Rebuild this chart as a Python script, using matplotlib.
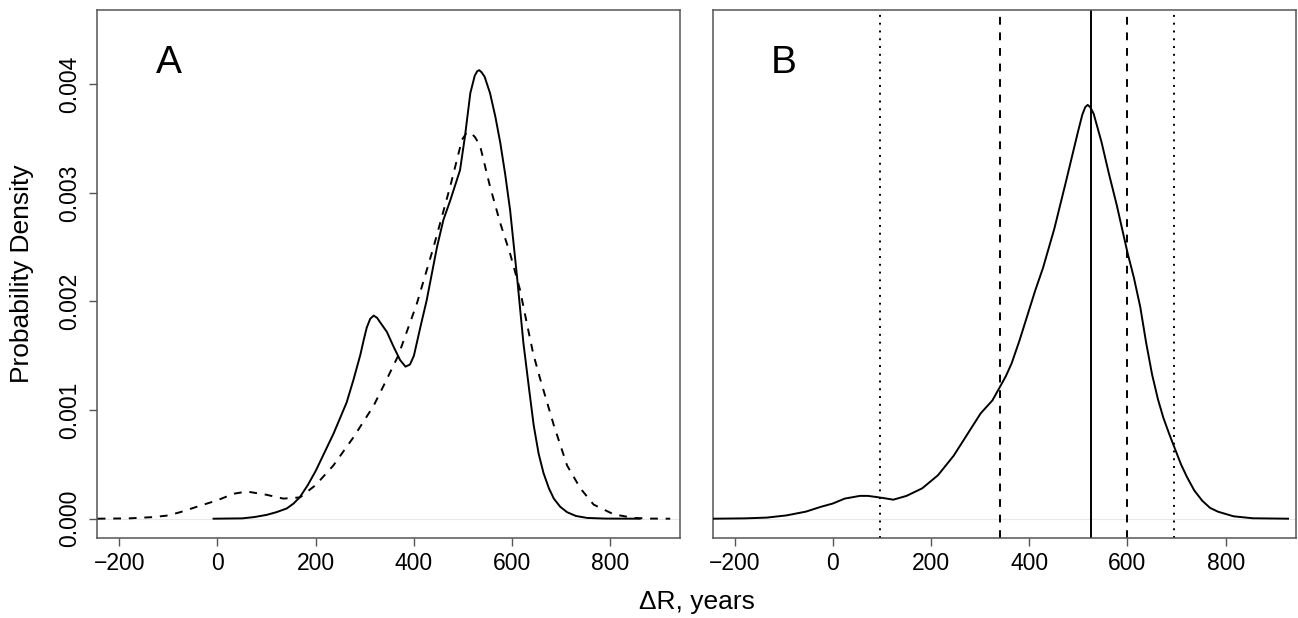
import matplotlib
matplotlib.use("Agg")
import matplotlib.pyplot as plt
import numpy as np

plt.rcParams['font.family'] = ['Liberation Sans', 'DejaVu Sans']

# Panel A, solid density (x in years, y in units of 1e-3)
a_solid_x = [-8, 50, 75, 100, 120, 141, 155, 168, 184, 200, 218, 236, 250, 263, 277, 291, 298, 304, 311, 318, 325,
             331, 345, 359, 372, 383, 392, 400, 413, 426, 447, 460, 474, 494, 504, 515, 524, 529, 533, 538, 544, 555,
             566, 576, 586, 596, 610, 623, 635, 644, 654, 664, 675, 685, 698, 712, 730, 753, 790, 860]
a_solid_y = [0, 0.003, 0.015, 0.035, 0.06, 0.094, 0.14, 0.20, 0.31, 0.44, 0.61, 0.78, 0.93, 1.07, 1.28, 1.51, 1.65, 1.76, 1.84, 1.87, 1.85,
             1.81, 1.72, 1.58, 1.46, 1.40, 1.42, 1.50, 1.76, 2.01, 2.50, 2.75, 2.93, 3.21, 3.52, 3.92, 4.08, 4.12, 4.13, 4.11, 4.07, 3.92,
             3.70, 3.46, 3.17, 2.84, 2.23, 1.62, 1.18, 0.86, 0.60, 0.42, 0.28, 0.185, 0.11, 0.06, 0.025, 0.007, 0.001, 0]

# Panel A, dashed density
a_dash_x = [-244, -180, -130, -100, -76, -35, 0, 33, 60, 100, 134, 168, 200, 236, 277, 318, 340, 368,
            406, 440, 474, 498, 507, 515, 525, 535, 555, 576, 596, 616, 630, 643, 657, 685, 712, 739, 766, 807,
            848, 880, 922]
a_dash_y = [0, 0.003, 0.015, 0.03, 0.06, 0.12, 0.17, 0.23, 0.25, 0.22, 0.185, 0.196, 0.31, 0.49, 0.75, 1.04, 1.24, 1.50,
            1.98, 2.50, 3.06, 3.49, 3.55, 3.56, 3.51, 3.43, 3.06, 2.72, 2.44, 2.11, 1.80, 1.52, 1.29, 0.86, 0.49, 0.28, 0.13, 0.04,
            0.007, 0.001, 0]

# Panel B, combined density
b_x = [-244, -180, -135, -95, -55, -24, 0, 24, 55, 71, 88, 103, 123, 150, 182, 214, 246, 277, 301, 325,
       341, 352, 364, 380, 396, 412, 428, 451, 475, 499, 508, 514, 519, 524, 531, 547, 562, 578, 600, 613, 626,
       638, 650, 662, 673, 685, 697, 709, 721, 736, 752, 768, 784, 816, 855, 927]
b_y = [0, 0.003, 0.01, 0.03, 0.065, 0.11, 0.14, 0.185, 0.21, 0.21, 0.20, 0.19, 0.175, 0.21, 0.28, 0.40, 0.58, 0.80, 0.97, 1.09,
       1.22, 1.31, 1.43, 1.64, 1.87, 2.10, 2.31, 2.67, 3.11, 3.56, 3.72, 3.79, 3.81, 3.79, 3.73, 3.47, 3.18, 2.89, 2.45, 2.22, 1.95,
       1.62, 1.33, 1.10, 0.93, 0.78, 0.64, 0.50, 0.385, 0.26, 0.167, 0.10, 0.065, 0.022, 0.004, 0]

# Panel B reference lines
b_dotted = [95, 695]
b_dashed = [340, 600]
b_solid = [525]

x_ticks = [-200, 0, 200, 400, 600, 800]
y_ticks = [0.000, 0.001, 0.002, 0.003, 0.004]
y_tick_labels = ["0.000", "0.001", "0.002", "0.003", "0.004"]

W, H = 1298, 618
fig = plt.figure(figsize=(W / 100, H / 100), dpi=100)
axA = fig.add_axes([97.3 / W, 1 - 537.7 / H, 583 / W, 527.7 / H])
axB = fig.add_axes([712.7 / W, 1 - 537.7 / H, 583 / W, 527.7 / H])

lw = 1.4
dash = (0, (4, 4))
dot = (0, (1, 3))
xlim = (-244.8, 942.6)
ylim = (-0.000175, 0.004684)

for ax in (axA, axB):
    ax.axhline(0, color="#e8e8e8", lw=0.8, zorder=1)
    ax.set_xlim(*xlim)
    ax.set_ylim(*ylim)
    ax.set_xticks(x_ticks)
    ax.set_xticklabels([str(t).replace("-", "\u2212") for t in x_ticks])
    for s in ax.spines.values():
        s.set_color("#555555")
        s.set_linewidth(1.1)
    ax.tick_params(axis="both", direction="out", length=6, width=1.0, color="#555555",
                   labelsize=16.5, pad=4.5)

axA.plot(a_solid_x, np.array(a_solid_y) / 1000, color="black", lw=lw, zorder=3)
axA.plot(a_dash_x, np.array(a_dash_y) / 1000, color="black", lw=lw, linestyle=dash, zorder=3)
axA.set_yticks(y_ticks)
axA.set_yticklabels(y_tick_labels, rotation=90, va="center")
axA.tick_params(axis="y", pad=6)
axA.text(-100, 0.0042, "A", fontsize=28, ha="center", va="center")

axB.plot(b_x, np.array(b_y) / 1000, color="black", lw=lw, zorder=3)
for v in b_dotted:
    axB.axvline(v, color="black", lw=lw, linestyle=dot, zorder=2)
for v in b_dashed:
    axB.axvline(v, color="black", lw=lw, linestyle=dash, zorder=2)
for v in b_solid:
    axB.axvline(v, color="black", lw=lw, zorder=2)
axB.set_yticks([])
axB.text(-100, 0.0042, "B", fontsize=28, ha="center", va="center")

fig.text(22 / W, 1 - 274 / H, "Probability Density", rotation=90, ha="center", va="center", fontsize=19)
fig.text(696.5 / W, 1 - 602 / H, "\u0394R, years", ha="center", va="center", fontsize=19)

fig.savefig("out.png", dpi=100)
